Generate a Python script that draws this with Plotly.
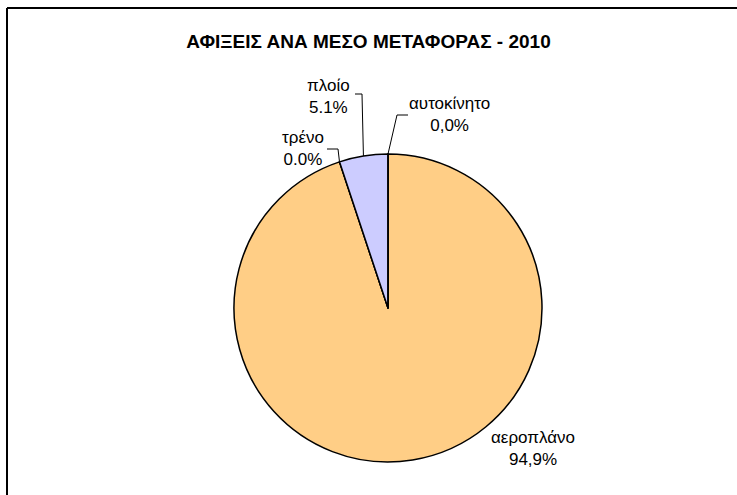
import math
import plotly.graph_objects as go

W, H = 737, 495
categories = ["αεροπλάνο", "τρένο", "πλοίο", "αυτοκίνητο"]
values = [94.9, 0.0, 5.1, 0.0]
pct_labels = ["94,9%", "0.0%", "5.1%", "0,0%"]
colors = ["#FFCE86", "#CCCCFF", "#CCCCFF", "#FFFFCC"]
title = "ΑΦΙΞΕΙΣ ΑΝΑ ΜΕΣΟ ΜΕΤΑΦΟΡΑΣ - 2010"

cx, cy, r = 388, 308, 154
dom_x = [(cx - r) / W, (cx + r) / W]
dom_y = [(H - (cy + r)) / H, (H - (cy - r)) / H]

fig = go.Figure(go.Pie(
    labels=categories, values=values, sort=False, direction="clockwise",
    rotation=0, textinfo="none", hoverinfo="label+percent",
    marker=dict(colors=colors, line=dict(color="black", width=1.5)),
    domain=dict(x=dom_x, y=dom_y), showlegend=False,
))

def px2paper(x, y):
    return x / W, 1 - y / H

label_pos = {
    "αεροπλάνο": (533, 448, None),
    "τρένο": (303, 149, [(327, 149), (338, 149)]),
    "πλοίο": (328, 96, [(355, 94), (362, 94)]),
    "αυτοκίνητο": (449, 115, [(408, 115), (397, 115)]),
}

total = sum(values)
cum = 0.0
font = dict(family="Liberation Sans, Arial, sans-serif", size=17, color="black")
for cat, v, pl in zip(categories, values, pct_labels):
    mid = (cum + v / 2) / total
    cum += v
    ang = 2 * math.pi * mid
    ex, ey = cx + r * math.sin(ang), cy - r * math.cos(ang)
    lx, ly, elbow = label_pos[cat]
    ax, ay = px2paper(lx, ly)
    fig.add_annotation(x=ax, y=ay, xref="paper", yref="paper", showarrow=False,
                       text=f"{cat}<br>{pl}", font=font, align="center",
                       xanchor="center", yanchor="middle")
    if elbow:
        pts = elbow + [(ex, ey)]
        path = "M " + " L ".join(f"{px2paper(x, y)[0]},{px2paper(x, y)[1]}" for x, y in pts)
        fig.add_shape(type="path", path=path, xref="paper", yref="paper",
                      line=dict(color="black", width=1))

# outer frame: left and top edges
fx0, fy1 = px2paper(7, 8)
fig.add_shape(type="line", xref="paper", yref="paper", x0=fx0, y0=-0.02, x1=fx0, y1=fy1,
              line=dict(color="black", width=2))
fig.add_shape(type="line", xref="paper", yref="paper", x0=fx0, y0=fy1, x1=1.0, y1=fy1,
              line=dict(color="black", width=2))

fig.update_layout(
    width=W, height=H, margin=dict(l=0, r=0, t=0, b=0),
    paper_bgcolor="white", plot_bgcolor="white",
    title=dict(text=f"<b>{title}</b>", x=368.5 / W, xanchor="center",
               y=1 - 41 / H, yanchor="middle",
               font=dict(family="Liberation Sans, Arial, sans-serif", size=19, color="black")),
)

fig.write_html("out.html", config={"displayModeBar": False},
               post_script="document.body.style.margin='0';")
